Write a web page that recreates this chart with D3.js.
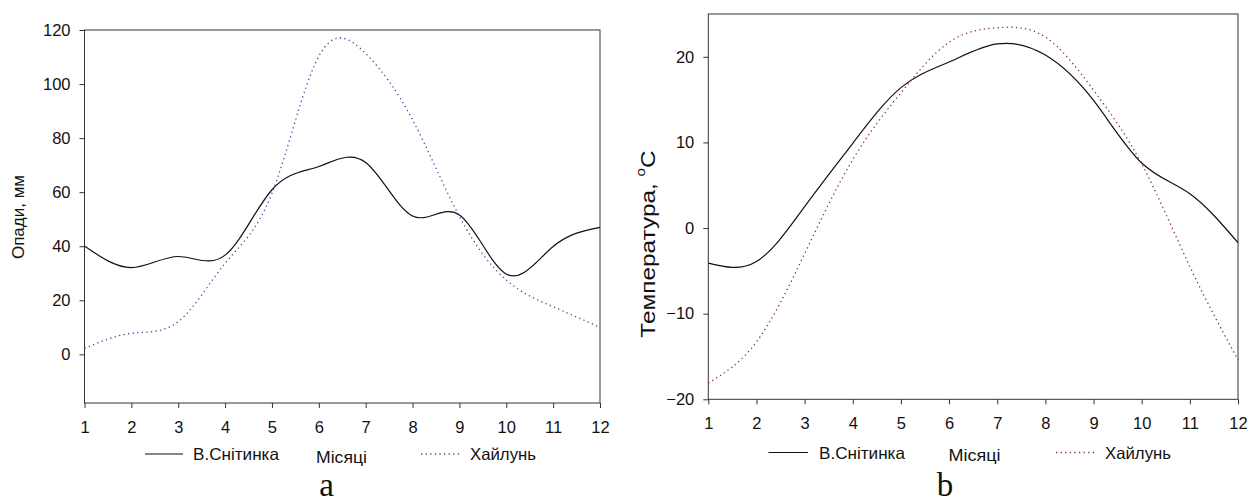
<!DOCTYPE html>
<html>
<head>
<meta charset="utf-8">
<script src="https://cdn.jsdelivr.net/npm/d3@7"></script>
<style>
  body { margin: 0; background: #fff; }
  svg { display: block; }
  text { font-family: "Liberation Sans", Arial, sans-serif; fill: #111; }
</style>
</head>
<body>
<svg id="chart" width="1249" height="503"></svg>
<script>
// Monthly values, January (1) to December (12)
const months = [1, 2, 3, 4, 5, 6, 7, 8, 9, 10, 11, 12];

// Precipitation, mm
const precipSnitynka = [40.1, 32.1, 36.2, 36.7, 60.9, 69.5, 71.0, 51.2, 51.6, 29.7, 39.9, 47.0];
const precipHailun   = [2.2, 7.8, 12.1, 33.7, 59.6, 110.3, 111.3, 86.8, 51.0, 27.5, 17.6, 10.0];

// Air temperature, °C
const tempSnitynka = [-4.1, -3.9, 2.5, 9.9, 16.4, 19.4, 21.5, 20.2, 14.9, 7.6, 4.0, -1.7];
const tempHailun   = [-18.1, -13.3, -3.0, 8.0, 15.8, 21.7, 23.4, 22.3, 16.1, 7.5, -4.5, -15.4];

const precipTicks = [0, 20, 40, 60, 80, 100, 120];
const tempTicks = [-20, -10, 0, 10, 20];

const seriesNames = ["В.Снітинка", "Хайлунь"];
const xTitle = "Місяці";

const svg = d3.select("#chart");

function drawPanel(p) {
  const g = svg.append("g");
  const x = d3.scaleLinear().domain([1, 12]).range([p.left, p.right]);
  const y = d3.scaleLinear().domain(p.yDomain).range([p.bottom, p.top]);

  // plot frame
  g.append("rect")
    .attr("x", p.left).attr("y", p.top)
    .attr("width", p.right - p.left).attr("height", p.bottom - p.top)
    .attr("fill", "none").attr("stroke", "#333").attr("stroke-width", 1);

  // x axis
  const xa = g.append("g").attr("transform", `translate(0,${p.bottom})`)
    .call(d3.axisBottom(x).tickValues(months).tickFormat(d3.format("d"))
      .tickSize(5).tickSizeOuter(0).tickPadding(13));
  xa.select(".domain").remove();
  xa.selectAll("line").attr("stroke", "#333");
  xa.selectAll("text").style("font-size", "16.5px").attr("fill", "#111");

  // y axis
  const ya = g.append("g").attr("transform", `translate(${p.left},0)`)
    .call(d3.axisLeft(y).tickValues(p.ticks).tickFormat(d3.format("d"))
      .tickSize(5).tickSizeOuter(0).tickPadding(9));
  ya.select(".domain").remove();
  ya.selectAll("line").attr("stroke", "#333");
  ya.selectAll("text").style("font-size", "16.5px").attr("fill", "#111");

  // y axis title (rotated, stretched along its length)
  const yt = g.append("text")
    .attr("transform", `translate(${p.yLabelX},${p.yLabelY}) rotate(-90) scale(${p.yLabelStretch},1)`)
    .attr("text-anchor", "middle")
    .attr("dominant-baseline", "central")
    .style("font-size", p.yLabelSize + "px");
  yt.append("tspan").text(p.yLabel);
  if (p.yUnitSup) {
    yt.append("tspan").attr("baseline-shift", "super").style("font-size", (p.yLabelSize * 0.62) + "px").text(p.yUnitSup);
    yt.append("tspan").text(p.yUnit);
  }

  const line = d3.line()
    .x((d, i) => x(months[i]))
    .y(d => y(d))
    .curve(d3.curveNatural);

  // series curves
  g.append("path").datum(p.series[0])
    .attr("d", line).attr("fill", "none")
    .attr("stroke", "#111").attr("stroke-width", 1.2);
  g.append("path").datum(p.series[1])
    .attr("d", line).attr("fill", "none")
    .attr("stroke", p.dotColor).attr("stroke-width", 1.3)
    .attr("stroke-dasharray", "1.3,3.3");

  // legend + x axis title
  const L = p.legend;
  g.append("line").attr("x1", L.l1[0]).attr("x2", L.l1[1])
    .attr("y1", L.y).attr("y2", L.y).attr("stroke", "#111").attr("stroke-width", 1.2);
  g.append("text").attr("x", L.t1[0]).attr("y", L.y).attr("dominant-baseline", "central")
    .attr("textLength", L.t1[1]).attr("lengthAdjust", "spacingAndGlyphs")
    .style("font-size", "16.5px").text(seriesNames[0]);
  g.append("text").attr("x", L.tx[0]).attr("y", L.y + 2.5).attr("dominant-baseline", "central")
    .attr("textLength", L.tx[1]).attr("lengthAdjust", "spacingAndGlyphs")
    .style("font-size", "16.5px").text(xTitle);
  g.append("line").attr("x1", L.l2[0]).attr("x2", L.l2[1])
    .attr("y1", L.y).attr("y2", L.y).attr("stroke", p.dotColor).attr("stroke-width", 1.3)
    .attr("stroke-dasharray", "1.3,3.3");
  g.append("text").attr("x", L.t2[0]).attr("y", L.y).attr("dominant-baseline", "central")
    .attr("textLength", L.t2[1]).attr("lengthAdjust", "spacingAndGlyphs")
    .style("font-size", "16.5px").text(seriesNames[1]);

  // panel caption
  g.append("text").attr("x", p.caption[1]).attr("y", p.caption[2])
    .attr("text-anchor", "middle")
    .style("font-family", "'Liberation Serif', 'Times New Roman', serif")
    .style("font-size", "33px")
    .text(p.caption[0]);
}

drawPanel({
  left: 84.5, right: 600, top: 30, bottom: 403,
  yDomain: [-18, 120], ticks: precipTicks,
  series: [precipSnitynka, precipHailun],
  dotColor: "#5a43a0",
  yLabel: "Опади, мм", yLabelX: 18, yLabelY: 217, yLabelSize: 17, yLabelStretch: 1,
  legend: { y: 454, l1: [145, 183], t1: [193, 86], tx: [316, 51], l2: [421, 461], t2: [470, 66] },
  caption: ["a", 326.5, 495.5]
});

drawPanel({
  left: 708.3, right: 1238, top: 14, bottom: 399.3,
  yDomain: [-20, 25], ticks: tempTicks,
  series: [tempSnitynka, tempHailun],
  dotColor: "#8a2a5c",
  yLabel: "Температура, ", yUnitSup: "o", yUnit: "C",
  yLabelX: 648, yLabelY: 244, yLabelSize: 20, yLabelStretch: 1.22,
  legend: { y: 452.5, l1: [768.5, 808], t1: [819, 86], tx: [948.5, 52], l2: [1056, 1096], t2: [1105, 66] },
  caption: ["b", 945, 495.5]
});
</script>
</body>
</html>
